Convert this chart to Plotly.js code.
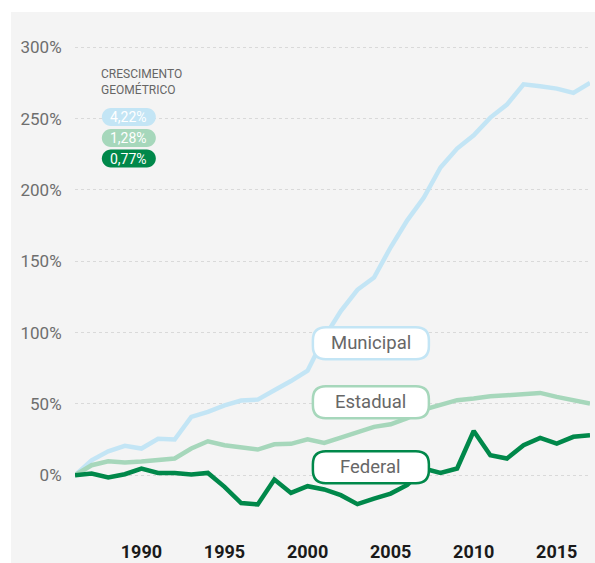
<!DOCTYPE html>
<html>
<head>
<meta charset="utf-8">
<script src="https://cdn.plot.ly/plotly-3.0.1.min.js"></script>
<style>
html,body{margin:0;padding:0;background:#ffffff;}
#chart{position:absolute;left:11px;top:12px;width:584px;height:551px;}
</style>
</head>
<body>
<div id="chart"></div>
<script>
const years = [1986,1987,1988,1989,1990,1991,1992,1993,1994,1995,1996,1997,1998,1999,2000,2001,2002,2003,2004,2005,2006,2007,2008,2009,2010,2011,2012,2013,2014,2015,2016,2017];
const municipal = [0,10.5,16.8,20.6,18.7,25.5,25,40.9,44.4,49,52.3,53,59.6,66,73.3,96.5,115,130,138.6,159.8,178.7,194.6,215.7,229,238.3,250.7,259.8,274,272.7,271,268,275];
const estadual = [0,7,9.8,8.9,9.6,10.5,11.7,18.7,23.8,21,19.4,18,21.7,22,25.2,22.7,26.4,30.4,33.9,35.7,40,46,49,52.6,53.7,55.4,56,56.8,57.7,54.9,52.6,50.2];
const federal = [0,1.2,-1.6,0.7,4.7,1.6,1.6,0.5,1.6,-8.2,-19.5,-20.5,-3,-12.4,-7.7,-10,-14,-20.3,-16.4,-12.9,-6.8,4.7,1.6,4.7,31,14,11.7,21,26.2,22.2,26.9,28];
const seriesNames = ["Municipal","Estadual","Federal"];
const growthLabels = ["4,22%","1,28%","0,77%"];
const yTickVals = [0,50,100,150,200,250,300];
const yTickText = ["0%","50%","100%","150%","200%","250%","300%"];
const xTickVals = [1990,1995,2000,2005,2010,2015];
const xTickText = ["1990","1995","2000","2005","2010","2015"];

const colors = ["#c3e5f5","#a6d7bb","#00884a"];
const FONT = "Roboto, 'Noto Sans', sans-serif";

const traces = [municipal, estadual, federal].map((vals,i)=>({
  type:"scatter", mode:"lines", x:years, y:vals, name:seriesNames[i],
  line:{color:colors[i], width:4.5, shape:"linear"}, hoverinfo:"skip"
}));

function roundRect(hw,hh,r){
  return `M ${-hw+r},${-hh} L ${hw-r},${-hh} Q ${hw},${-hh} ${hw},${-hh+r} L ${hw},${hh-r} Q ${hw},${hh} ${hw-r},${hh} L ${-hw+r},${hh} Q ${-hw},${hh} ${-hw},${hh-r} L ${-hw},${-hh+r} Q ${-hw},${-hh} ${-hw+r},${-hh} Z`;
}
function pill(hw,hh){
  const k=0.5523*hh, c=hw-hh;
  return `M ${-c},${-hh} L ${c},${-hh} C ${c+k},${-hh} ${hw},${-k} ${hw},0 C ${hw},${k} ${c+k},${hh} ${c},${hh} L ${-c},${hh} C ${-c-k},${hh} ${-hw},${k} ${-hw},0 C ${-hw},${-k} ${-c-k},${-hh} ${-c},${-hh} Z`;
}

// label positions (layout only)
const labelX = 2003.81;
const labelY = [92.5, 51.2, 5.6];
const pillX = 1989.24;
const pillY = [251.1, 236.4, 222.0];

const shapes = [];
const annotations = [];
seriesNames.forEach((n,i)=>{
  shapes.push({type:"path", xref:"x", yref:"y", xsizemode:"pixel", ysizemode:"pixel",
    xanchor:labelX, yanchor:labelY[i], path:roundRect(58,16,13),
    fillcolor:"#ffffff", line:{color:colors[i], width:2.5}, layer:"above"});
  annotations.push({xref:"x", yref:"y", x:labelX, y:labelY[i], text:n, showarrow:false,
    font:{family:FONT, size:18.5, color:"#676767"}, xanchor:"center", yanchor:"middle"});
  shapes.push({type:"path", xref:"x", yref:"y", xsizemode:"pixel", ysizemode:"pixel",
    xanchor:pillX, yanchor:pillY[i], path:pill(27,9),
    fillcolor:colors[i], line:{width:0}, layer:"above"});
  annotations.push({xref:"x", yref:"y", x:pillX, y:pillY[i], text:growthLabels[i], showarrow:false,
    font:{family:FONT, size:14, color:"#ffffff"}, xanchor:"center", yanchor:"middle"});
});
annotations.push({xref:"x", yref:"y", x:1987.47, y:275.5, text:"CRESCIMENTO<br>GEOMÉTRICO", showarrow:false,
  align:"left", xanchor:"left", yanchor:"middle", font:{family:FONT, size:12, color:"#666666"}});

const layout = {
  width:584, height:551,
  margin:{l:64, r:5, t:21, b:45, pad:0},
  paper_bgcolor:"#f4f4f4", plot_bgcolor:"#f4f4f4",
  showlegend:false,
  font:{family:FONT},
  xaxis:{range:[1986,2017], tickvals:xTickVals, ticktext:xTickText, showgrid:false, zeroline:false,
    showline:false, ticks:"outside", ticklen:17, tickcolor:"rgba(0,0,0,0)",
    tickfont:{family:FONT, size:18, color:"#1a1a1a", weight:"bold"}, fixedrange:true},
  yaxis:{range:[-30,310], tickvals:yTickVals, ticktext:yTickText, showgrid:true, gridcolor:"#d9d9d9",
    griddash:"dot", gridwidth:1, zeroline:false, showline:false, ticks:"outside", ticklen:9,
    tickcolor:"rgba(0,0,0,0)", tickfont:{family:FONT, size:17, color:"#6e6e6e"}, fixedrange:true},
  shapes:shapes, annotations:annotations
};
Plotly.newPlot("chart", traces, layout, {displayModeBar:false, staticPlot:true});
</script>
</body>
</html>
